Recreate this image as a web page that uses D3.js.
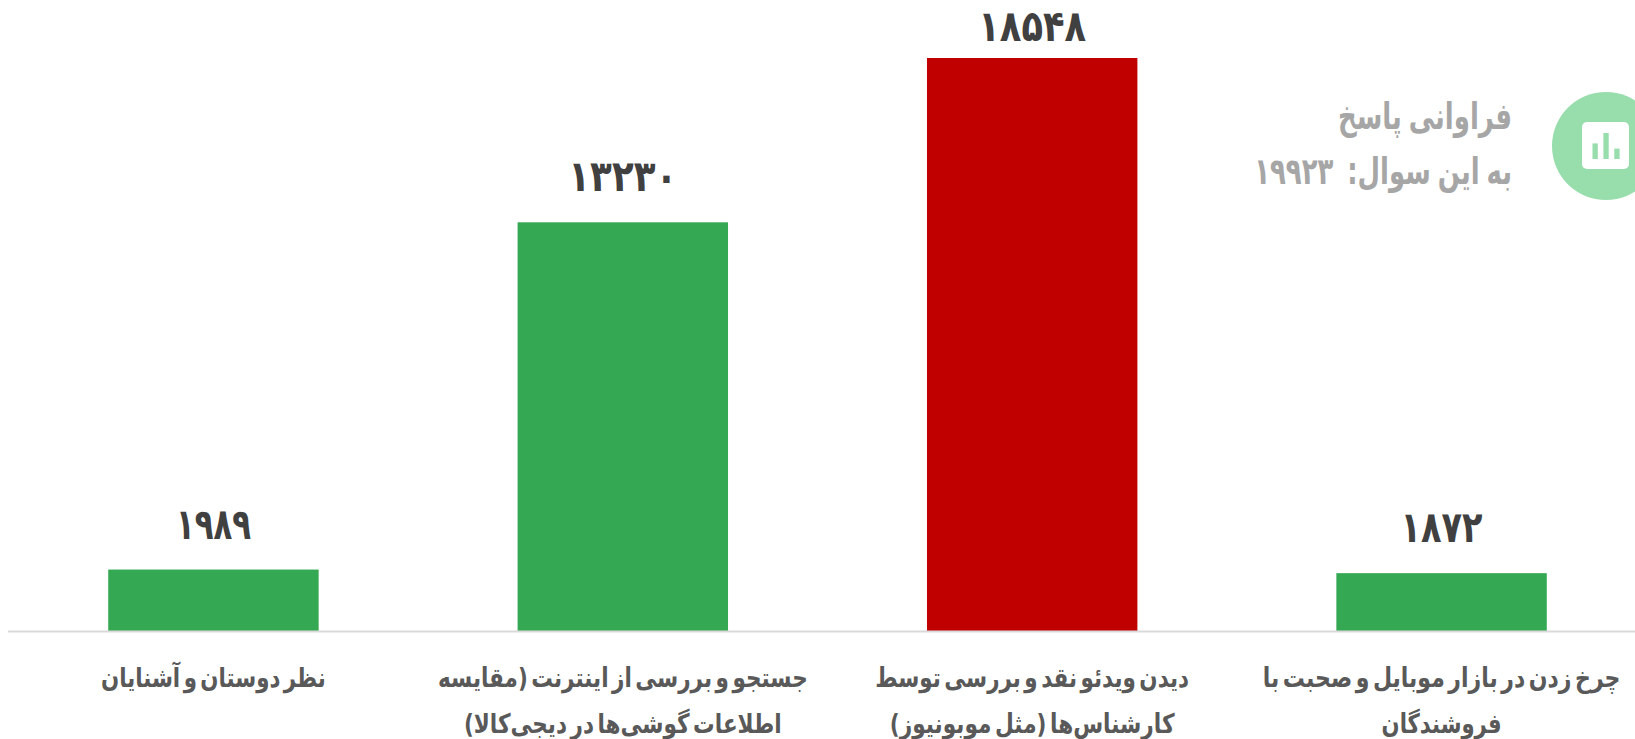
<!DOCTYPE html>
<html><head><meta charset="utf-8">
<script src="https://cdnjs.cloudflare.com/ajax/libs/d3/7.8.5/d3.min.js"></script>
<style>html,body{margin:0;background:#fff;overflow:hidden}svg{display:block}text{font-family:"DejaVu Sans",sans-serif;direction:rtl}</style>
</head><body><svg id="c" width="1635" height="739"></svg>
<script>
const categories = ["نظر دوستان و آشنایان","جستجو و بررسی از اینترنت (مقایسه","دیدن ویدئو نقد و بررسی توسط","چرخ زدن در بازار موبایل و صحبت با"];
const categorySecondLines = ["","اطلاعات گوشی‌ها در دیجی‌کالا)","کارشناس‌ها (مثل موبونیوز)","فروشندگان"];
const values = [1989,13230,18548,1872];
const valueLabels = ["۱۹۸۹","۱۳۲۳۰","۱۸۵۴۸","۱۸۷۲"];
const barColors = ["#34a853","#34a853","#c00000","#34a853"];
const titleLines = ["فراوانی پاسخ","به این سوال:  ۱۹۹۲۳"];
const iconBars = [3,5,2];

// fitted text widths (layout only)
const valueW=[75,109,108,82], line1W=[225,370,314,358], line2W=[0,318,285,120], titleW=[174,258];

const svg = d3.select("#c");
const x = d3.scaleBand().domain(d3.range(4)).range([20,1635]).paddingInner(.486).paddingOuter(.2155);
const y = d3.scaleLinear().domain([0,18548]).range([631,58]);
const cx = i => x(i)+x.bandwidth()/2;

// squeeze a text horizontally to a width, anchored at (px,py)
function place(sel,px,py,w){
  sel.each(function(d,i){
    const len=this.getComputedTextLength();
    d3.select(this).attr("transform",`translate(${px(d,i)},${py(d,i)}) scale(${w(d,i)/len},1)`);
  });
}

svg.selectAll("rect.bar").data(values).join("rect").attr("class","bar")
  .attr("x",(d,i)=>x(i)).attr("width",x.bandwidth()).attr("y",d=>y(d)).attr("height",d=>y(0)-y(d))
  .attr("fill",(d,i)=>barColors[i]);
svg.append("line").attr("x1",8).attr("x2",1635).attr("y1",y(0)+.5).attr("y2",y(0)+.5).attr("stroke","#d9d9d9").attr("stroke-width",2);

svg.selectAll("text.val").data(values).join("text").attr("class","val")
  .attr("text-anchor","middle").attr("font-size",43).attr("font-weight",700).attr("fill","#404040")
  .text((d,i)=>valueLabels[i])
  .call(place,(d,i)=>cx(i),d=>Math.max(41,y(d)-31),(d,i)=>valueW[i]);

function labels(cls,texts,widths,py){
  svg.selectAll("text."+cls).data(texts).join("text").attr("class",cls)
    .attr("text-anchor","middle").attr("font-size",27).attr("font-weight",700).attr("fill","#595959").attr("word-spacing",-5)
    .text(d=>d)
    .call(place,(d,i)=>cx(i),()=>py,(d,i)=>widths[i]||1);
}
labels("l1",categories,line1W,687);
labels("l2",categorySecondLines,line2W,733);

svg.selectAll("text.title").data(titleLines).join("text").attr("class","title")
  .attr("text-anchor","start").attr("font-size",37).attr("font-weight",700).attr("fill","#a6a6a6").attr("word-spacing",-3).style("white-space","pre")
  .text(d=>d)
  .call(place,()=>1512,(d,i)=>129+i*55,(d,i)=>titleW[i]);

svg.append("circle").attr("cx",1606).attr("cy",146).attr("r",54).attr("fill","#98ddac");
svg.append("rect").attr("x",1582).attr("y",122).attr("width",47).attr("height",47).attr("rx",5).attr("fill","#fff");
const ix=d3.scalePoint().domain(d3.range(3)).range([1592.5,1614.3]);
const iy=d3.scaleLinear().domain([0,5]).range([159,133]);
svg.selectAll("rect.ic").data(iconBars).join("rect").attr("class","ic").attr("x",(d,i)=>ix(i)).attr("width",5.3).attr("y",d=>iy(d)).attr("height",d=>159-iy(d)).attr("fill","#98ddac");
</script></body></html>
